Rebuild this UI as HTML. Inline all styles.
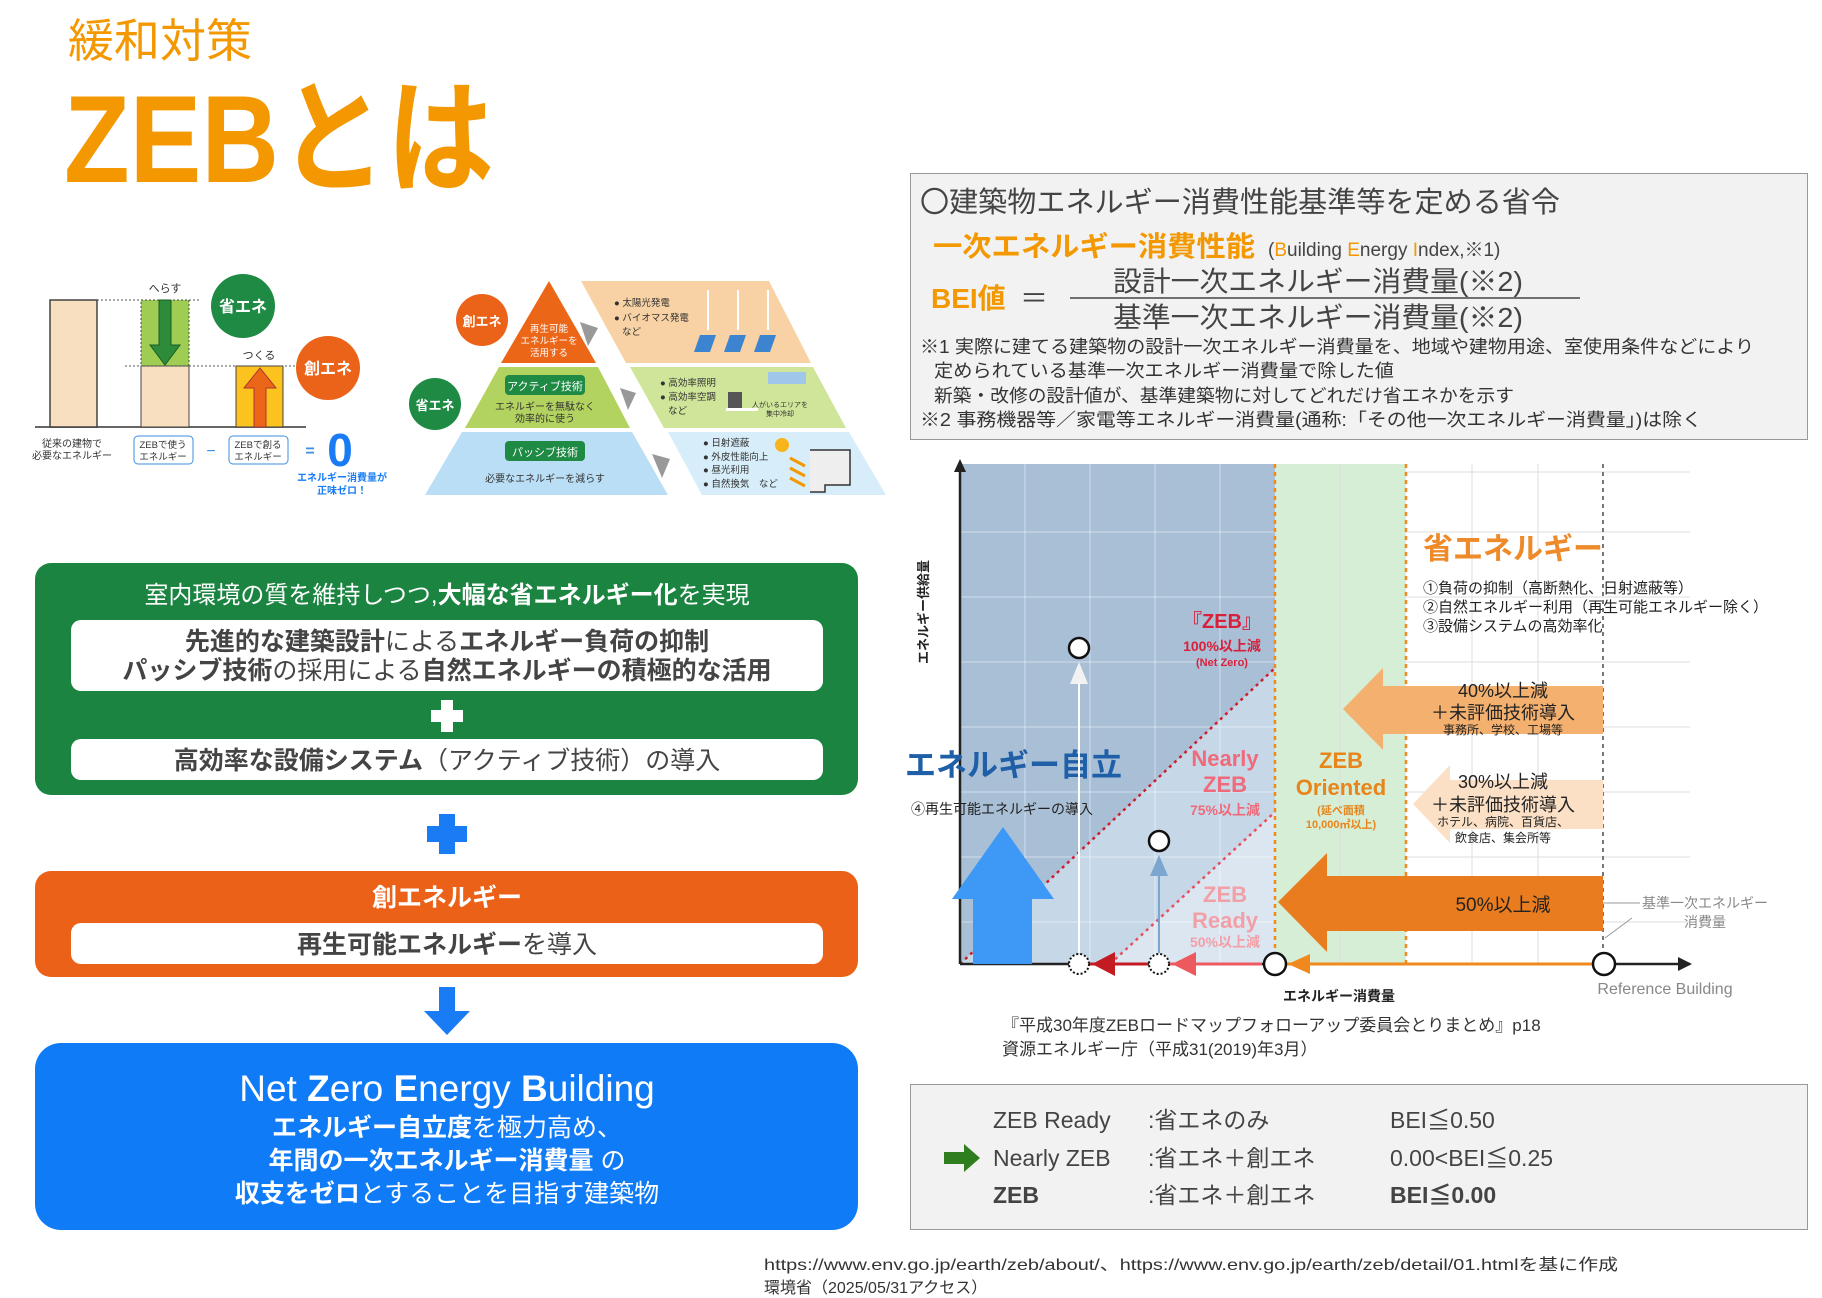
<!DOCTYPE html>
<html><head><meta charset="utf-8"><style>
html,body{margin:0;padding:0;background:#fff}
svg{display:block}
text{font-family:"Liberation Sans","Noto Sans CJK JP",sans-serif}
</style></head><body>
<svg width="1822" height="1298" viewBox="0 0 1822 1298" xmlns="http://www.w3.org/2000/svg">
<!-- Titles -->
<text x="68" y="57" font-size="46" fill="#f39800">緩和対策</text>
<text x="64" y="182" font-size="124" font-weight="bold" fill="#f39800" textLength="430" lengthAdjust="spacingAndGlyphs">ZEBとは</text>

<!-- Left small diagram -->
<g>
<line x1="35" y1="427" x2="306" y2="427" stroke="#666" stroke-width="2"/>
<rect x="50" y="300" width="47" height="127" fill="#f7dfc0" stroke="#444" stroke-width="1.5"/>
<line x1="97" y1="300" x2="200" y2="300" stroke="#555" stroke-dasharray="2,2"/>
<rect x="141" y="300" width="48" height="66" fill="#9fcc53" stroke="#444" stroke-dasharray="2,2"/>
<rect x="141" y="366" width="48" height="61" fill="#f7dfc0" stroke="#444" stroke-width="1"/>
<polygon points="159,300 171,300 171,345 180,345 165,365 150,345 159,345" fill="#2e8b3a" stroke="#1a5e22"/>
<text x="165" y="292" font-size="11" text-anchor="middle" fill="#333">へらす</text>
<line x1="125" y1="366" x2="300" y2="366" stroke="#555" stroke-dasharray="2,2"/>
<rect x="236" y="366" width="47" height="61" fill="#fcc31e" stroke="#444"/>
<polygon points="254,427 266,427 266,388 276,388 260,368 244,388 254,388" fill="#ec6618" stroke="#a33"/>
<text x="259" y="359" font-size="11" text-anchor="middle" fill="#333">つくる</text>
<circle cx="243" cy="306" r="32" fill="#1e8a43"/>
<text x="243" y="312" font-size="16" font-weight="bold" fill="#fff" text-anchor="middle">省エネ</text>
<circle cx="328" cy="368" r="32" fill="#eb6219"/>
<text x="328" y="374" font-size="16" font-weight="bold" fill="#fff" text-anchor="middle">創エネ</text>
<text x="72" y="447" font-size="10" text-anchor="middle" fill="#333">従来の建物で</text>
<text x="72" y="459" font-size="10" text-anchor="middle" fill="#333">必要なエネルギー</text>
<rect x="134" y="436" width="59" height="28" rx="4" fill="#fff" stroke="#3b8fe0"/>
<text x="163" y="448" font-size="9.5" text-anchor="middle" fill="#333">ZEBで使う</text>
<text x="163" y="460" font-size="9.5" text-anchor="middle" fill="#333">エネルギー</text>
<text x="211" y="456" font-size="16" text-anchor="middle" fill="#3b8fe0">−</text>
<rect x="229" y="436" width="59" height="28" rx="4" fill="#fff" stroke="#3b8fe0"/>
<text x="258" y="448" font-size="9.5" text-anchor="middle" fill="#333">ZEBで創る</text>
<text x="258" y="460" font-size="9.5" text-anchor="middle" fill="#333">エネルギー</text>
<text x="310" y="456" font-size="16" font-weight="bold" text-anchor="middle" fill="#3b8fe0">=</text>
<text x="340" y="466" font-size="46" font-weight="bold" text-anchor="middle" fill="#1a7cf5">0</text>
<text x="342" y="481" font-size="10" font-weight="bold" text-anchor="middle" fill="#1a7cf5">エネルギー消費量が</text>
<text x="342" y="494" font-size="10" font-weight="bold" text-anchor="middle" fill="#1a7cf5">正味ゼロ！</text>
</g>

<!-- Pyramid -->
<g>
<polygon points="549,281 501,363 596,363" fill="#ec6618"/>
<polygon points="499,367 598,367 630,428 465,428" fill="#b3d360"/>
<polygon points="462,432 632,432 668,495 425,495" fill="#b9def5"/>
<polygon points="581,281 769,281 811,363 626,363" fill="#f8d2a4"/>
<polygon points="630,367 813,367 846,428 664,428" fill="#cfe59a"/>
<polygon points="668,432 849,432 886,495 702,495" fill="#d7eefa"/>
<text x="549" y="332" font-size="9.5" fill="#fff" text-anchor="middle">再生可能</text>
<text x="549" y="344" font-size="9.5" fill="#fff" text-anchor="middle">エネルギーを</text>
<text x="549" y="356" font-size="9.5" fill="#fff" text-anchor="middle">活用する</text>
<rect x="505" y="375" width="80" height="20" rx="4" fill="#1e8a43"/>
<text x="545" y="390" font-size="11" fill="#fff" text-anchor="middle">アクティブ技術</text>
<text x="545" y="410" font-size="10" fill="#333" text-anchor="middle">エネルギーを無駄なく</text>
<text x="545" y="422" font-size="10" fill="#333" text-anchor="middle">効率的に使う</text>
<rect x="505" y="441" width="80" height="20" rx="4" fill="#1e8a43"/>
<text x="545" y="456" font-size="11" fill="#fff" text-anchor="middle">パッシブ技術</text>
<text x="545" y="482" font-size="10" fill="#333" text-anchor="middle">必要なエネルギーを減らす</text>
<polygon points="580,322 598,328 588,346" fill="#999"/>
<polygon points="620,388 636,393 628,410" fill="#999"/>
<polygon points="652,454 670,459 662,478" fill="#999"/>
<text x="614" y="306" font-size="9.5" fill="#333">● 太陽光発電</text>
<text x="614" y="321" font-size="9.5" fill="#333">● バイオマス発電</text>
<text x="622" y="335" font-size="9.5" fill="#333">など</text>
<g stroke="#fff" stroke-width="2"><line x1="708" y1="290" x2="708" y2="330"/><line x1="738" y1="290" x2="738" y2="330"/><line x1="768" y1="290" x2="768" y2="330"/></g>
<g fill="#3c84d0"><polygon points="700,335 716,335 710,352 694,352"/><polygon points="730,335 746,335 740,352 724,352"/><polygon points="760,335 776,335 770,352 754,352"/></g>
<text x="660" y="386" font-size="9.5" fill="#333">● 高効率照明</text>
<text x="660" y="400" font-size="9.5" fill="#333">● 高効率空調</text>
<text x="668" y="414" font-size="9.5" fill="#333">など</text>
<rect x="768" y="372" width="38" height="12" fill="#9fc7ea"/>
<rect x="728" y="392" width="14" height="16" fill="#555"/>
<rect x="726" y="408" width="32" height="3" fill="#fff"/>
<text x="780" y="407" font-size="7" fill="#333" text-anchor="middle">人がいるエリアを</text>
<text x="780" y="416" font-size="7" fill="#333" text-anchor="middle">集中冷却</text>
<text x="703" y="446" font-size="9.5" fill="#333">● 日射遮蔽</text>
<text x="703" y="460" font-size="9.5" fill="#333">● 外皮性能向上</text>
<text x="703" y="473" font-size="9.5" fill="#333">● 昼光利用</text>
<text x="703" y="487" font-size="9.5" fill="#333">● 自然換気　など</text>
<circle cx="782" cy="445" r="7" fill="#f7b41b"/>
<polyline points="810,450 850,450 850,485 825,485 825,492 810,492" fill="#eee" stroke="#333" stroke-width="1.5"/>
<g stroke="#f39800" stroke-width="3"><line x1="790" y1="458" x2="805" y2="466"/><line x1="790" y1="468" x2="805" y2="476"/><line x1="790" y1="478" x2="805" y2="486"/></g>
<circle cx="482" cy="320" r="26" fill="#eb6219"/>
<text x="482" y="326" font-size="13" font-weight="bold" fill="#fff" text-anchor="middle">創エネ</text>
<circle cx="435" cy="404" r="26" fill="#1e8a43"/>
<text x="435" y="410" font-size="13" font-weight="bold" fill="#fff" text-anchor="middle">省エネ</text>
</g>

<!-- Green box -->
<rect x="35" y="563" width="823" height="232" rx="16" fill="#1b8441"/>
<text x="447" y="603" font-size="24" fill="#fff" text-anchor="middle">室内環境の質を維持しつつ,<tspan font-weight="bold">大幅な省エネルギー化</tspan>を実現</text>
<rect x="71" y="620" width="752" height="71" rx="10" fill="#fff"/>
<text x="447" y="650" font-size="25" fill="#444" text-anchor="middle"><tspan font-weight="bold">先進的な建築設計</tspan>による<tspan font-weight="bold">エネルギー負荷の抑制</tspan></text>
<text x="447" y="679" font-size="25" fill="#444" text-anchor="middle"><tspan font-weight="bold">パッシブ技術</tspan>の採用による<tspan font-weight="bold">自然エネルギーの積極的な活用</tspan></text>
<rect x="441" y="700" width="12" height="32" fill="#fff"/><rect x="431" y="710" width="32" height="12" fill="#fff"/>
<rect x="71" y="739" width="752" height="41" rx="10" fill="#fff"/>
<text x="447" y="769" font-size="25" fill="#444" text-anchor="middle"><tspan font-weight="bold">高効率な設備システム</tspan>（アクティブ技術）の導入</text>

<!-- blue plus -->
<rect x="439" y="814" width="16" height="40" fill="#1a7cf5"/><rect x="427" y="826" width="40" height="16" fill="#1a7cf5"/>

<!-- Orange box -->
<rect x="35" y="871" width="823" height="106" rx="16" fill="#ec6118"/>
<text x="447" y="906" font-size="25" font-weight="bold" fill="#fff" text-anchor="middle">創エネルギー</text>
<rect x="71" y="923" width="752" height="41" rx="10" fill="#fff"/>
<text x="447" y="953" font-size="25" fill="#444" text-anchor="middle"><tspan font-weight="bold">再生可能エネルギー</tspan>を導入</text>

<!-- blue down arrow -->
<polygon points="439,987 455,987 455,1011 470,1011 447,1035 424,1011 439,1011" fill="#1a7cf5"/>

<!-- Blue box -->
<rect x="35" y="1043" width="823" height="187" rx="26" fill="#0f7bf7"/>
<text x="447" y="1101" font-size="37" fill="#fff" text-anchor="middle">Net <tspan font-weight="bold">Z</tspan>ero <tspan font-weight="bold">E</tspan>nergy <tspan font-weight="bold">B</tspan>uilding</text>
<text x="447" y="1136" font-size="25" fill="#fff" text-anchor="middle"><tspan font-weight="bold">エネルギー自立度</tspan>を極力高め、</text>
<text x="447" y="1169" font-size="25" fill="#fff" text-anchor="middle"><tspan font-weight="bold">年間の一次エネルギー消費量</tspan> の</text>
<text x="447" y="1202" font-size="25" fill="#fff" text-anchor="middle"><tspan font-weight="bold">収支をゼロ</tspan>とすることを目指す建築物</text>

<!-- Right top panel -->
<rect x="910.5" y="173.5" width="897" height="266" fill="#f2f2f2" stroke="#999"/>
<text x="920" y="212" font-size="29" fill="#444" textLength="640" lengthAdjust="spacingAndGlyphs">〇建築物エネルギー消費性能基準等を定める省令</text>
<text x="933" y="256" font-size="28" font-weight="bold" fill="#f39800" textLength="322" lengthAdjust="spacingAndGlyphs">一次エネルギー消費性能</text>
<text x="1268" y="256" font-size="19" fill="#444">(<tspan fill="#f39800">B</tspan>uilding <tspan fill="#f39800">E</tspan>nergy <tspan fill="#f39800">I</tspan>ndex,※1)</text>
<text x="931" y="308" font-size="28" font-weight="bold" fill="#f39800">BEI値</text>
<text x="1020" y="308" font-size="28" fill="#444">＝</text>
<text x="1113" y="291" font-size="28" fill="#444" textLength="410" lengthAdjust="spacingAndGlyphs">設計一次エネルギー消費量(※2)</text>
<line x1="1070" y1="298" x2="1580" y2="298" stroke="#444" stroke-width="1.5"/>
<text x="1113" y="327" font-size="28" fill="#444" textLength="410" lengthAdjust="spacingAndGlyphs">基準一次エネルギー消費量(※2)</text>
<text x="920" y="353" font-size="18" fill="#333" textLength="834" lengthAdjust="spacingAndGlyphs">※1 実際に建てる建築物の設計一次エネルギー消費量を、地域や建物用途、室使用条件などにより</text>
<text x="934" y="377" font-size="18" fill="#333" textLength="460" lengthAdjust="spacingAndGlyphs">定められている基準一次エネルギー消費量で除した値</text>
<text x="934" y="402" font-size="18" fill="#333" textLength="580" lengthAdjust="spacingAndGlyphs">新築・改修の設計値が、基準建築物に対してどれだけ省エネかを示す</text>
<text x="920" y="426" font-size="18" fill="#333" textLength="782" lengthAdjust="spacingAndGlyphs">※2 事務機器等／家電等エネルギー消費量(通称:「その他一次エネルギー消費量」)は除く</text>

<!-- Chart -->
<g>
<rect x="960" y="464" width="315" height="500" fill="#a9bfd6"/>
<polygon points="960,964 1275,668 1275,964" fill="#c6d7e8"/>
<polygon points="1110,964 1275,812 1275,964" fill="#dce6f1"/>
<rect x="1275" y="464" width="131" height="500" fill="#d6eed6"/>
<g stroke="#ffffff" stroke-opacity="0.45" stroke-width="1">
<line x1="1025" y1="464" x2="1025" y2="964"/><line x1="1090" y1="464" x2="1090" y2="964"/><line x1="1155" y1="464" x2="1155" y2="964"/><line x1="1220" y1="464" x2="1220" y2="964"/>
<line x1="960" y1="532" x2="1275" y2="532"/><line x1="960" y1="597" x2="1275" y2="597"/><line x1="960" y1="662" x2="1275" y2="662"/><line x1="960" y1="727" x2="1275" y2="727"/><line x1="960" y1="792" x2="1275" y2="792"/><line x1="960" y1="857" x2="1275" y2="857"/><line x1="960" y1="922" x2="1275" y2="922"/>
</g>
<g stroke="#dddddd" stroke-width="1">
<line x1="1340" y1="464" x2="1340" y2="964"/><line x1="1472" y1="464" x2="1472" y2="964"/><line x1="1538" y1="464" x2="1538" y2="964"/>
<line x1="1406" y1="472" x2="1690" y2="472"/><line x1="1406" y1="532" x2="1690" y2="532"/><line x1="1406" y1="597" x2="1690" y2="597"/><line x1="1406" y1="662" x2="1690" y2="662"/><line x1="1406" y1="727" x2="1690" y2="727"/><line x1="1406" y1="792" x2="1690" y2="792"/><line x1="1406" y1="857" x2="1690" y2="857"/><line x1="1406" y1="922" x2="1690" y2="922"/>
</g>
<line x1="1275" y1="464" x2="1275" y2="964" stroke="#f08a1e" stroke-width="2.5" stroke-dasharray="4,4"/>
<line x1="1406" y1="464" x2="1406" y2="964" stroke="#f08a1e" stroke-width="2.5" stroke-dasharray="4,4"/>
<line x1="1603" y1="464" x2="1603" y2="964" stroke="#777" stroke-width="2" stroke-dasharray="4,4"/>
<line x1="960" y1="964" x2="1275" y2="668" stroke="#cc1f2e" stroke-width="2.5" stroke-dasharray="3,4"/>
<line x1="1110" y1="964" x2="1275" y2="812" stroke="#e8505e" stroke-width="2.5" stroke-dasharray="3,4"/>
<line x1="960" y1="964" x2="960" y2="466" stroke="#222" stroke-width="2.5"/>
<polygon points="960,459 954,472 966,472" fill="#222"/>
<line x1="960" y1="964" x2="1690" y2="964" stroke="#222" stroke-width="2.5"/>
<polygon points="1692,964 1678,957 1678,971" fill="#222"/>
<line x1="1275" y1="964" x2="1603" y2="964" stroke="#f08a1e" stroke-width="3"/>
<polygon points="1288,964 1310,954 1310,974" fill="#f08a1e"/>
<line x1="1160" y1="964" x2="1262" y2="964" stroke="#ec5a60" stroke-width="3"/>
<polygon points="1172,964 1196,952 1196,976" fill="#ec5a60"/>
<line x1="1088" y1="964" x2="1148" y2="964" stroke="#c41a22" stroke-width="3"/>
<polygon points="1092,964 1115,952 1115,976" fill="#c41a22"/>
<!-- 50% -->
<polygon points="1278,902 1327,853 1327,876 1603,876 1603,931 1327,931 1327,952" fill="#e87c1e"/>
<text x="1503" y="911" font-size="19" fill="#222" text-anchor="middle">50%以上減</text>
<!-- 40% -->
<polygon points="1343,709 1383,668 1383,686 1603,686 1603,734 1383,734 1383,750" fill="#f4b06e"/>
<text x="1503" y="697" font-size="18" fill="#222" text-anchor="middle">40%以上減</text>
<text x="1503" y="719" font-size="18" fill="#222" text-anchor="middle">＋未評価技術導入</text>
<text x="1503" y="734" font-size="12" fill="#222" text-anchor="middle">事務所、学校、工場等</text>
<!-- 30% -->
<polygon points="1413,804 1450,765 1450,780 1603,780 1603,829 1450,829 1450,843" fill="#fbe0c6"/>
<text x="1503" y="788" font-size="18" fill="#222" text-anchor="middle">30%以上減</text>
<text x="1503" y="811" font-size="18" fill="#222" text-anchor="middle">＋未評価技術導入</text>
<text x="1503" y="826" font-size="12" fill="#222" text-anchor="middle">ホテル、病院、百貨店、</text>
<text x="1503" y="842" font-size="12" fill="#222" text-anchor="middle">飲食店、集会所等</text>
<text x="1423" y="559" font-size="30" font-weight="bold" fill="#ef8a2a">省エネルギー</text>
<text x="1423" y="593" font-size="15" fill="#222">①負荷の抑制（高断熱化、日射遮蔽等）</text>
<text x="1423" y="612" font-size="15" fill="#222">②自然エネルギー利用（再生可能エネルギー除く）</text>
<text x="1423" y="631" font-size="15" fill="#222">③設備システムの高効率化</text>
<text x="1222" y="628" font-size="20" font-weight="bold" fill="#d9203a" text-anchor="middle">『ZEB』</text>
<text x="1222" y="651" font-size="14" font-weight="bold" fill="#d9203a" text-anchor="middle">100%以上減</text>
<text x="1222" y="666" font-size="11" font-weight="bold" fill="#d9203a" text-anchor="middle">(Net Zero)</text>
<text x="1225" y="766" font-size="22" font-weight="bold" fill="#ef6a7a" text-anchor="middle">Nearly</text>
<text x="1225" y="792" font-size="22" font-weight="bold" fill="#ef6a7a" text-anchor="middle">ZEB</text>
<text x="1225" y="815" font-size="14" font-weight="bold" fill="#ef6a7a" text-anchor="middle">75%以上減</text>
<text x="1225" y="902" font-size="22" font-weight="bold" fill="#f2a0a8" text-anchor="middle">ZEB</text>
<text x="1225" y="928" font-size="22" font-weight="bold" fill="#f2a0a8" text-anchor="middle">Ready</text>
<text x="1225" y="947" font-size="14" font-weight="bold" fill="#f2a0a8" text-anchor="middle">50%以上減</text>
<text x="1341" y="768" font-size="22" font-weight="bold" fill="#e8851a" text-anchor="middle">ZEB</text>
<text x="1341" y="795" font-size="22" font-weight="bold" fill="#e8851a" text-anchor="middle">Oriented</text>
<text x="1341" y="814" font-size="11" font-weight="bold" fill="#e8851a" text-anchor="middle">(延べ面積</text>
<text x="1341" y="828" font-size="11" font-weight="bold" fill="#e8851a" text-anchor="middle">10,000㎡以上)</text>
<!-- Blue big arrow -->
<polygon points="1003,827 1054,899 1032,899 1032,964 973,964 973,899 952,899" fill="#3d99f5"/>
<text x="905" y="776" font-size="31" font-weight="bold" fill="#1f5fa8">エネルギー自立</text>
<text x="911" y="814" font-size="14" fill="#222">④再生可能エネルギーの導入</text>
<line x1="1079" y1="680" x2="1079" y2="953" stroke="#fff" stroke-width="2"/>
<polygon points="1079,662 1070,684 1088,684" fill="#f2f2f2"/>
<circle cx="1079" cy="648" r="10" fill="#fff" stroke="#111" stroke-width="2.5"/>
<circle cx="1079" cy="964" r="10" fill="#fff" stroke="#111" stroke-width="2" stroke-dasharray="2,2"/>
<line x1="1159" y1="870" x2="1159" y2="953" stroke="#7aa6cf" stroke-width="2"/>
<polygon points="1159,855 1150,876 1168,876" fill="#7aa6cf"/>
<circle cx="1159" cy="841" r="10" fill="#fff" stroke="#111" stroke-width="2.5"/>
<circle cx="1159" cy="964" r="10" fill="#fff" stroke="#111" stroke-width="2" stroke-dasharray="2,2"/>
<circle cx="1275" cy="964" r="11" fill="#fff" stroke="#111" stroke-width="2.5"/>
<circle cx="1604" cy="964" r="11" fill="#fff" stroke="#111" stroke-width="2.5"/>
<line x1="1605" y1="938" x2="1632" y2="918" stroke="#999"/>
<line x1="1603" y1="903" x2="1640" y2="903" stroke="#999"/>
<text x="1705" y="908" font-size="14" fill="#888" text-anchor="middle">基準一次エネルギー</text>
<text x="1705" y="927" font-size="14" fill="#888" text-anchor="middle">消費量</text>
<text x="1665" y="994" font-size="16" fill="#888" text-anchor="middle">Reference Building</text>
<text x="1339" y="1001" font-size="14" font-weight="bold" fill="#222" text-anchor="middle">エネルギー消費量</text>
<text transform="translate(928,612) rotate(-90)" font-size="13" font-weight="bold" fill="#222" text-anchor="middle">エネルギー供給量</text>
</g>
<text x="1002" y="1031" font-size="17" fill="#333">『平成30年度ZEBロードマップフォローアップ委員会とりまとめ』p18</text>
<text x="1002" y="1055" font-size="17" fill="#333">資源エネルギー庁（平成31(2019)年3月）</text>

<!-- Bottom panel -->
<rect x="910.5" y="1084.5" width="897" height="145" fill="#f2f2f2" stroke="#999"/>
<text x="993" y="1128" font-size="23" fill="#444">ZEB Ready</text>
<text x="1148" y="1128" font-size="23" fill="#444">:省エネのみ</text>
<text x="1390" y="1128" font-size="23" fill="#444">BEI≦0.50</text>
<polygon points="944,1152 964,1152 964,1144 980,1158 964,1172 964,1164 944,1164" fill="#2e7d1e"/>
<text x="993" y="1166" font-size="23" fill="#444">Nearly ZEB</text>
<text x="1148" y="1166" font-size="23" fill="#444">:省エネ＋創エネ</text>
<text x="1390" y="1166" font-size="23" fill="#444">0.00&lt;BEI≦0.25</text>
<text x="993" y="1203" font-size="23" font-weight="bold" fill="#444">ZEB</text>
<text x="1148" y="1203" font-size="23" fill="#444">:省エネ＋創エネ</text>
<text x="1390" y="1203" font-size="23" font-weight="bold" fill="#444">BEI≦0.00</text>

<text x="764" y="1270" font-size="16" fill="#333" textLength="854" lengthAdjust="spacingAndGlyphs">https://www.env.go.jp/earth/zeb/about/、https://www.env.go.jp/earth/zeb/detail/01.htmlを基に作成</text>
<text x="764" y="1293" font-size="16" fill="#333">環境省（2025/05/31アクセス）</text>
</svg>
</body></html>
